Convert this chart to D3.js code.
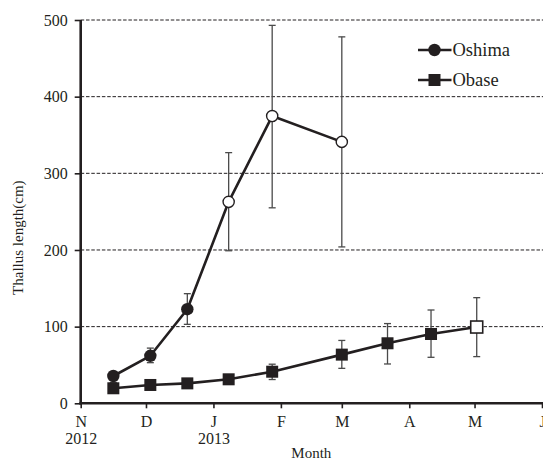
<!DOCTYPE html>
<html>
<head>
<meta charset="utf-8">
<script src="https://cdn.jsdelivr.net/npm/d3@7"></script>
<style>
  html, body { margin: 0; padding: 0; background: #fff; }
  svg, svg text { font-family: 'Liberation Serif', 'Times New Roman', Times, serif !important; }
  svg { display: block; }
</style>
</head>
<body>
<svg id="chart" width="543" height="460"></svg>
<script>
// Sampling dates
const oshimaDates = ["2012-11-16", "2012-12-03", "2012-12-20", "2013-01-08", "2013-01-28", "2013-03-01"];
const obaseDates  = ["2012-11-16", "2012-12-03", "2012-12-20", "2013-01-08", "2013-01-28", "2013-03-01", "2013-03-22", "2013-04-11", "2013-05-02"];

// Mean thallus length (cm) with lower / upper error bar ends
const oshimaMean  = [35.6, 62, 122.7, 262.8, 374.7, 341];
const oshimaLower = [31, 53, 103, 199, 255, 204];
const oshimaUpper = [40, 72, 143, 327, 493, 478];
const oshimaOpen  = [false, false, false, true, true, true];

const obaseMean  = [19.6, 23.9, 26, 31.3, 41.2, 63.5, 78.3, 90.4, 99.5];
const obaseLower = [14, 20, 22, 27, 31, 45.6, 51.3, 60, 60.9];
const obaseUpper = [27, 28, 30, 35, 51, 82, 104, 121.7, 137.8];
const obaseOpen  = [false, false, false, false, false, false, false, false, true];

// Axis ticks
const yTicks = [0, 100, 200, 300, 400, 500];
const monthLabels = ["N", "D", "J", "F", "M", "A", "M", "J"];
const yearLabels = { 0: "2012", 2: "2013" };

const seriesNames = ["Oshima", "Obase"];

const svg = d3.select("#chart");
const ink = "#231f20";
const serif = "'Liberation Serif', 'Times New Roman', Times, serif";
const parse = d3.utcParse("%Y-%m-%d");

const x = d3.scaleUtc()
  .domain([Date.UTC(2012, 10, 1), Date.UTC(2013, 5, 1)])
  .range([80.7, 542]);
const y = d3.scaleLinear().domain([0, 500]).range([403.3, 20]);

const monthTicks = d3.utcMonth.range(new Date(Date.UTC(2012, 10, 1)), new Date(Date.UTC(2013, 5, 2)));

// Horizontal dashed gridlines
svg.append("g")
  .selectAll("line")
  .data(yTicks.filter(d => d > 0))
  .join("line")
  .attr("x1", x.range()[0]).attr("x2", 543)
  .attr("y1", d => y(d)).attr("y2", d => y(d))
  .attr("stroke", ink).attr("stroke-width", 1)
  .attr("stroke-dasharray", "3.5,1.8");

// Y axis
const yAxis = svg.append("g")
  .attr("transform", `translate(${x.range()[0]},0)`)
  .call(d3.axisLeft(y).tickValues(yTicks).tickSize(6).tickPadding(7).tickFormat(d3.format("d")))
  .attr("font-family", null);
yAxis.select(".domain").attr("stroke", ink).attr("stroke-width", 2.6).attr("d", `M0,${y(500)}V${y(0) + 1.3}`);
yAxis.selectAll(".tick line").attr("stroke", ink).attr("stroke-width", 1.6);
yAxis.selectAll(".tick text").attr("fill", ink).attr("font-size", 16).style("font-family", serif);

// X axis
const xAxis = svg.append("g")
  .attr("transform", `translate(0,${y(0)})`)
  .call(d3.axisBottom(x).tickValues(monthTicks).tickSize(5).tickPadding(4)
    .tickFormat((d, i) => monthLabels[i]))
  .attr("font-family", null);
xAxis.select(".domain").attr("stroke", ink).attr("stroke-width", 2.6)
  .attr("d", `M${x.range()[0] - 1.3},0H543`);
xAxis.selectAll(".tick line").attr("stroke", ink).attr("stroke-width", 1.6);
xAxis.selectAll(".tick text").attr("fill", ink).attr("font-size", 16)
  .style("font-family", serif).attr("dy", "0.95em");
xAxis.selectAll(".tick").each(function (d, i) {
  if (yearLabels[i]) {
    d3.select(this).append("text")
      .attr("fill", ink).attr("font-size", 16)
      .style("font-family", serif)
      .attr("text-anchor", "middle")
      .attr("y", 40.5)
      .text(yearLabels[i]);
  }
});

// Axis titles
svg.append("text")
  .attr("x", (x.range()[0] + x.range()[1]) / 2).attr("y", 458)
  .attr("text-anchor", "middle").attr("font-size", 15).attr("fill", ink)
  .style("font-family", serif)
  .text("Month");
svg.append("text")
  .attr("transform", `translate(23,${(y(0) + y(500)) / 2 + 26}) rotate(-90)`)
  .attr("text-anchor", "middle").attr("font-size", 15).attr("fill", ink)
  .style("font-family", serif)
  .text("Thallus length(cm)");

function buildSeries(dates, mean, lower, upper, open) {
  return dates.map((d, i) => ({ date: parse(d), v: mean[i], lo: lower[i], hi: upper[i], open: open[i] }));
}
const oshima = buildSeries(oshimaDates, oshimaMean, oshimaLower, oshimaUpper, oshimaOpen);
const obase = buildSeries(obaseDates, obaseMean, obaseLower, obaseUpper, obaseOpen);

// Error bars
function drawErrors(data) {
  const g = svg.append("g").attr("stroke", "#4a4a4a").attr("stroke-width", 1.3);
  const cap = 3.5;
  data.forEach(p => {
    const cx = x(p.date);
    g.append("line").attr("x1", cx).attr("x2", cx).attr("y1", y(p.lo)).attr("y2", y(p.hi));
    g.append("line").attr("x1", cx - cap).attr("x2", cx + cap).attr("y1", y(p.hi)).attr("y2", y(p.hi));
    g.append("line").attr("x1", cx - cap).attr("x2", cx + cap).attr("y1", y(p.lo)).attr("y2", y(p.lo));
  });
}
drawErrors(oshima);
drawErrors(obase);

// Connecting lines
const line = d3.line().x(p => x(p.date)).y(p => y(p.v));
[oshima, obase].forEach(data => {
  svg.append("path").datum(data)
    .attr("d", line).attr("fill", "none")
    .attr("stroke", ink).attr("stroke-width", 2.6).attr("stroke-linejoin", "round");
});

// Markers
const r = 6.2, half = 6;
svg.append("g").selectAll("circle").data(oshima).join("circle")
  .attr("cx", p => x(p.date)).attr("cy", p => y(p.v)).attr("r", p => p.open ? r - 0.6 : r)
  .attr("fill", p => p.open ? "#fff" : ink)
  .attr("stroke", ink).attr("stroke-width", p => p.open ? 1.4 : 0);
svg.append("g").selectAll("rect").data(obase).join("rect")
  .attr("x", p => x(p.date) - half).attr("y", p => y(p.v) - half)
  .attr("width", half * 2).attr("height", half * 2)
  .attr("fill", p => p.open ? "#fff" : ink)
  .attr("stroke", ink).attr("stroke-width", p => p.open ? 1.6 : 0);

// Legend
const legend = svg.append("g");
seriesNames.forEach((name, i) => {
  const ly = 50 + i * 30;
  legend.append("line").attr("x1", 418).attr("x2", 451.5).attr("y1", ly).attr("y2", ly)
    .attr("stroke", ink).attr("stroke-width", 2.6);
  if (i === 0) {
    legend.append("circle").attr("cx", 434.5).attr("cy", ly).attr("r", r).attr("fill", ink);
  } else {
    legend.append("rect").attr("x", 434.5 - half).attr("y", ly - half)
      .attr("width", half * 2).attr("height", half * 2).attr("fill", ink);
  }
  legend.append("text").attr("x", 452.5).attr("y", ly + 6.3)
    .attr("font-size", 18.5).attr("fill", ink).style("font-family", serif).text(name);
});
</script>
</body>
</html>
